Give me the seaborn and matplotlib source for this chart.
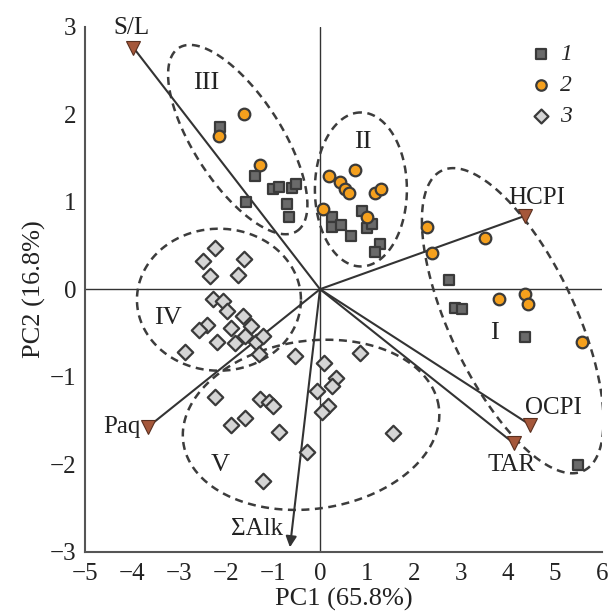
import numpy as np
import pandas as pd
import matplotlib
matplotlib.use("Agg")
import matplotlib.pyplot as plt
import seaborn as sns

# ---------------- data ----------------
# group 1 (squares)
g1_x = [-2.12, -1.39, -1.58, -0.99, -0.88, -0.60, -0.52, -0.71, -0.67,
        0.25, 0.26, 0.45, 0.65, 0.89, 0.99, 1.10, 1.28, 1.17,
        2.74, 2.87, 3.03, 4.36, 5.48]
g1_y = [1.85, 1.29, 1.00, 1.14, 1.17, 1.16, 1.20, 0.97, 0.83,
        0.82, 0.71, 0.73, 0.61, 0.89, 0.70, 0.75, 0.52, 0.43,
        0.11, -0.22, -0.23, -0.55, -2.01]
# group 2 (circles)
g2_x = [-1.62, -2.15, -1.27,
        0.19, 0.74, 0.43, 0.53, 0.62, 1.17, 1.30, 0.07, 1.01,
        2.27, 2.39, 3.50, 3.80, 4.37, 4.42, 5.58]
g2_y = [2.00, 1.75, 1.42,
        1.29, 1.36, 1.22, 1.15, 1.10, 1.10, 1.14, 0.92, 0.83,
        0.71, 0.41, 0.59, -0.11, -0.06, -0.17, -0.60]
# group 3 (diamonds)
g3_x = [-2.23, -2.50, -2.34, -1.61, -1.74, -2.28, -2.06, -1.97, -1.64, -1.47,
        -1.90, -2.40, -2.57, -2.19, -1.81, -1.60, -1.37, -1.22, -1.30, -2.87, -0.54,
        0.09, 0.85, 0.34, 0.25, -0.07, 0.16, 0.04, -2.23, -1.27, -1.09, -0.99,
        -1.60, -1.89, -0.87, 1.56, -0.27, -1.21]
g3_y = [0.47, 0.32, 0.15, 0.34, 0.16, -0.11, -0.13, -0.25, -0.31, -0.42,
        -0.44, -0.41, -0.47, -0.60, -0.62, -0.53, -0.60, -0.53, -0.74, -0.72, -0.76,
        -0.84, -0.73, -1.02, -1.11, -1.16, -1.34, -1.40, -1.23, -1.26, -1.29, -1.33,
        -1.47, -1.55, -1.63, -1.64, -1.86, -2.19]
groups = ["1", "2", "3"]

# loading vectors
vec_names = ["S/L", "HCPI", "OCPI", "TAR", "Paq", "ΣAlk"]
vec_x = [-3.97, 4.37, 4.47, 4.12, -3.65, -0.64]
vec_y = [2.76, 0.84, -1.55, -1.76, -1.57, -2.95]
vec_lab_x = [-4.02, 4.61, 4.96, 4.08, -4.22, -1.34]
vec_lab_y = [2.99, 1.04, -1.36, -2.01, -1.57, -2.74]

# cluster ellipses (centre in data units, semi-axes in pixels, angle in degrees)
ell_names = ["I", "II", "III", "IV", "V"]
ell_cx = [4.10, 0.87, -1.75, -2.15, -0.19]
ell_cy = [-0.36, 1.14, 1.71, -0.12, -1.55]
ell_a = [166, 77, 109, 82, 129]
ell_b = [63, 46, 44, 71, 84]
ell_ang = [-64.8, 90, -57.2, 0, 8]
ell_lab_x = [3.72, 0.91, -2.43, -3.23, -2.13]
ell_lab_y = [-0.50, 1.68, 2.36, -0.33, -2.01]

x_ticks = list(range(-5, 7))
y_ticks = list(range(-3, 4))

# ---------------- plot ----------------
sns.set_style("white")
SERIF = ["Liberation Serif", "DejaVu Serif"]
plt.rcParams["font.family"] = SERIF

df = pd.DataFrame({
    "PC1": g1_x + g2_x + g3_x,
    "PC2": g1_y + g2_y + g3_y,
    "grp": ["1"] * len(g1_x) + ["2"] * len(g2_x) + ["3"] * len(g3_x),
})

fig = plt.figure(figsize=(6.11, 6.11), dpi=100)
ax = fig.add_axes([85 / 611, 1 - 551.7 / 611, (602 - 85) / 611, (551.7 - 26.7) / 611])
ax.set_xlim(-5, 6)
ax.set_ylim(-3, 3)

DARK = "#333333"
ax.axhline(0, color=DARK, lw=1.0, zorder=1)
ax.axvline(0, color=DARK, lw=1.0, zorder=1)

# ellipses
p0 = ax.transData.transform((0, 0))
kx = ax.transData.transform((1, 0))[0] - p0[0]
ky = ax.transData.transform((0, 1))[1] - p0[1]
t = np.linspace(0, 2 * np.pi, 400)
for cx, cy, a, b, ang, nm, lx, ly in zip(ell_cx, ell_cy, ell_a, ell_b, ell_ang,
                                         ell_names, ell_lab_x, ell_lab_y):
    th = np.deg2rad(ang)
    dx = a * np.cos(t) * np.cos(th) - b * np.sin(t) * np.sin(th)
    dy = a * np.cos(t) * np.sin(th) + b * np.sin(t) * np.cos(th)
    ax.plot(cx + dx / kx, cy + dy / ky, color="#3c3c3c", lw=1.8,
            ls=(0, (3.2, 2.2)), zorder=2)
    ax.text(lx, ly, nm, fontsize=19, ha="center", va="center", color="#222222",
            zorder=3)

# vectors
BROWN = "#a5573a"
for nm, vx, vy, lx, ly in zip(vec_names, vec_x, vec_y, vec_lab_x, vec_lab_y):
    if nm == "ΣAlk":
        ax.annotate("", xy=(vx, vy), xytext=(0, 0),
                    arrowprops=dict(arrowstyle="-|>", color=DARK, lw=1.5,
                                    mutation_scale=16, shrinkA=0, shrinkB=0),
                    zorder=3)
    else:
        ax.plot([0, vx], [0, vy], color=DARK, lw=1.5, zorder=3)
        ax.plot([vx], [vy], marker="v", ms=10.5, mfc=BROWN, mec="#5a3020",
                mew=0.8, zorder=4)
    ax.text(lx, ly, nm, fontsize=18, ha="center", va="center", color="#222222",
            zorder=5)

# points
EDGE = "#3a3a3a"
marker_map = {"1": "s", "2": "o", "3": "D"}
color_map = {"1": "#6a6a6a", "2": "#f5a01d", "3": "#d5d5d5"}
size_map = {"1": 55, "2": 70, "3": 62}
for g in groups:
    sub = df[df["grp"] == g]
    sns.scatterplot(data=sub, x="PC1", y="PC2", marker=marker_map[g],
                    color=color_map[g], edgecolor=EDGE, linewidth=1.6,
                    s=size_map[g], label=g, ax=ax, zorder=6)

leg = ax.legend(loc="upper left", bbox_to_anchor=(0.805, 1.0), frameon=False,
                handletextpad=-0.2, labelspacing=0.4, borderaxespad=0.3,
                prop={"family": SERIF, "style": "italic", "size": 17},
                markerscale=0.9)

# axes styling
ax.set_xticks(x_ticks)
ax.set_yticks(y_ticks)
ax.set_xlabel("PC1 (65.8%)", fontsize=19, color="#222222", labelpad=2)
ax.set_ylabel("PC2 (16.8%)", fontsize=19, color="#222222", labelpad=3)
ax.tick_params(axis="both", direction="in", length=7, width=1.3, colors="#555555",
               labelsize=18, labelcolor="#222222", pad=6)
ax.tick_params(axis="x", pad=8)
for s in ["top", "right"]:
    ax.spines[s].set_visible(False)
for s in ["left", "bottom"]:
    ax.spines[s].set_color("#555555")
    ax.spines[s].set_linewidth(1.5)
ax.set_facecolor("white")

fig.savefig("out.png", dpi=100, facecolor="white")
